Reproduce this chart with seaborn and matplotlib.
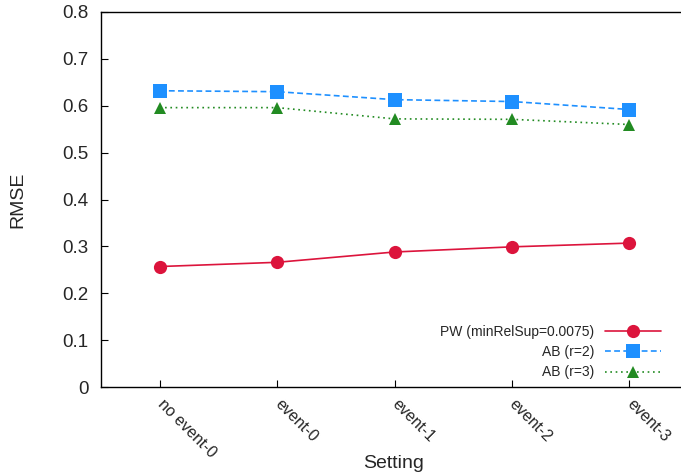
import matplotlib
matplotlib.use("Agg")
import matplotlib.pyplot as plt
import seaborn as sns
import pandas as pd

settings = ["no event-0", "event-0", "event-1", "event-2", "event-3"]
pw = [0.257, 0.266, 0.288, 0.299, 0.307]
ab2 = [0.632, 0.630, 0.613, 0.609, 0.592]
ab3 = [0.596, 0.596, 0.572, 0.571, 0.560]
series_names = ["PW (minRelSup=0.0075)", "AB (r=2)", "AB (r=3)"]

sns.set_style("ticks")
plt.rcParams['font.family'] = ['Liberation Sans', 'DejaVu Sans']
plt.rcParams['xtick.direction'] = 'in'
plt.rcParams['ytick.direction'] = 'in'

fig = plt.figure(figsize=(6.81, 4.76), dpi=100)
ax = fig.add_axes([101/681, 1-387/476, (688-101)/681, (387-12)/476])

df = pd.DataFrame({"x": list(range(len(settings))) * 3,
                   "RMSE": pw + ab2 + ab3,
                   "series": sum([[s] * len(settings) for s in series_names], [])})

styles = {
    series_names[0]: dict(color="#DC143C", marker="o", linestyle="-", markersize=9.5),
    series_names[1]: dict(color="#1E90FF", marker="s", linestyle=(0, (3.5, 2)), markersize=9.5),
    series_names[2]: dict(color="#228B22", marker="^", linestyle=(0, (1, 2.2)), markersize=9),
}
for name in series_names:
    st = styles[name]
    sub = df[df.series == name]
    sns.lineplot(data=sub, x="x", y="RMSE", ax=ax, color=st["color"], marker=st["marker"],
                 linestyle=st["linestyle"], markersize=st["markersize"], markeredgewidth=0,
                 linewidth=1.2, label=name)

ax.set_xlim(-0.5, 4.5)
ax.set_ylim(0, 0.8)
ax.set_yticks([0, 0.1, 0.2, 0.3, 0.4, 0.5, 0.6, 0.7, 0.8])
ax.set_yticklabels(["0", "0.1", "0.2", "0.3", "0.4", "0.5", "0.6", "0.7", "0.8"], fontsize=13.5)
ax.set_xticks(range(len(settings)))
ax.set_xticklabels(settings, fontsize=11.5, rotation=-45, ha='left', va='center', rotation_mode='anchor')
ax.tick_params(axis='both', length=5, width=0.8, color='black')
ax.tick_params(axis='x', pad=11)
ax.tick_params(axis='y', pad=9)
for sp in ax.spines.values():
    sp.set_linewidth(1.0)
    sp.set_color('black')
ax.set_xlabel("Setting", fontsize=14)
ax.set_ylabel("RMSE", fontsize=14)
ax.xaxis.set_label_coords((394 - 101) / 587, (387 - 455) / 375)
ax.xaxis.label.set_va('top')
ax.yaxis.set_label_coords((18 - 101) / 587, 0.5)
ax.yaxis.label.set_va('center')

leg = ax.legend(loc='lower right', bbox_to_anchor=(663/681 + 0.005, 1 - 385/476),
                bbox_transform=fig.transFigure, frameon=False, markerfirst=False,
                handlelength=4, fontsize=10, labelspacing=0.45, borderaxespad=0,
                handletextpad=0.8)
for t in leg.get_texts():
    t.set_ha('right')
leg._legend_box.align = "right"

fig.savefig("out.png", dpi=100)
